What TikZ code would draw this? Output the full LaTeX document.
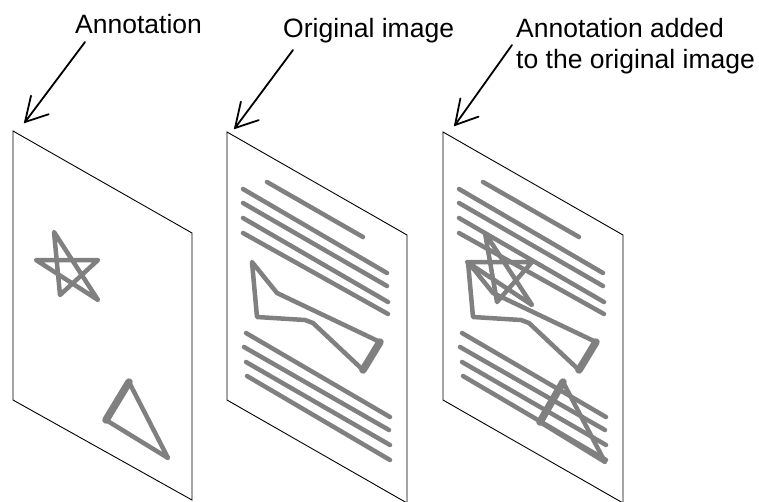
\documentclass[tikz,border=0pt]{standalone}
\usepackage{fontspec}
\setmainfont{Liberation Sans}
\usetikzlibrary{calc}
\definecolor{inkgray}{RGB}{128,128,128}
\begin{document}
\begin{tikzpicture}[x=1pt,y=-1pt,
  panel/.style={draw=black,line width=0.9pt,line join=miter},
  ink/.style={draw=inkgray,line width=4.5pt,line cap=round,line join=round},
  heavy/.style={draw=inkgray,line width=7.5pt,line cap=round},
  lbl/.style={font=\fontsize{26.5}{31}\selectfont,inner sep=0pt,anchor=base west,align=left},
  arr/.style={line width=1.8pt,line cap=round,line join=miter}]
\useasboundingbox (0,0) rectangle (759,501);
% labels
\node[lbl] (l1) at (75,33) {Annotation};
\node[lbl] (l2) at (283,37) {Original image};
\node[lbl] (l3) at (516,68) {Annotation added\\to the original image};
% arrow coordinates
\coordinate (s1) at (85,42);  \coordinate (t1) at (25,122);
\coordinate (s2) at (293,50); \coordinate (t2) at (235,128);
\coordinate (s3) at (512,45); \coordinate (t3) at (455,125);
\foreach \i in {1,2,3}{
  \draw[arr] (s\i) -- (t\i);
  \draw[arr] ($(t\i)!27pt!24:(s\i)$) -- (t\i) -- ($(t\i)!25pt!-35:(s\i)$);
}
% panels
\draw[panel] (13,131) -- (192,233) -- (192,500) -- (13,400) -- cycle;
\draw[panel] (227,132) -- (407,235) -- (407,503) -- (227,400) -- cycle;
\draw[panel] (443,132) -- (623,235) -- (623,503) -- (443,400) -- cycle;
% panel 1 annotation
\draw[ink] (54,232) -- (60,295) -- (98,260) -- (36,260) -- (98,300) -- cycle;
\draw[ink] (129,382) -- (168,458) -- (106,420);
\draw[heavy] (106,420) -- (129,382);
% panels 2 and 3 text lines and shape
\foreach \dx in {0,216}{
\begin{scope}[xshift=\dx]
  \draw[ink] (267,182) -- (363,237);
  \draw[ink] (243,189) -- (387,273);
  \draw[ink] (243,203) -- (387,286);
  \draw[ink] (243,218) -- (388,302);
  \draw[ink] (243,233) -- (388,314);
  \draw[ink] (246,333) -- (390,417);
  \draw[ink] (244,347) -- (389,430);
  \draw[ink] (246,362) -- (390,445);
  \draw[ink] (247,376) -- (390,460);
  \draw[ink] (363,370) -- (313,323) -- (305,320) -- (257,317) -- (252,262) -- (277,293) -- (380,342);
  \draw[heavy] (380,342) -- (363,370);
\end{scope}}
% panel 3 annotation
\draw[ink] (485,233) -- (497,302) -- (532,262) -- (467,262) -- (532,305) -- cycle;
\draw[ink] (563,382) -- (605,462) -- (540,422);
\draw[heavy] (540,422) -- (563,382);
\end{tikzpicture}
\end{document}
